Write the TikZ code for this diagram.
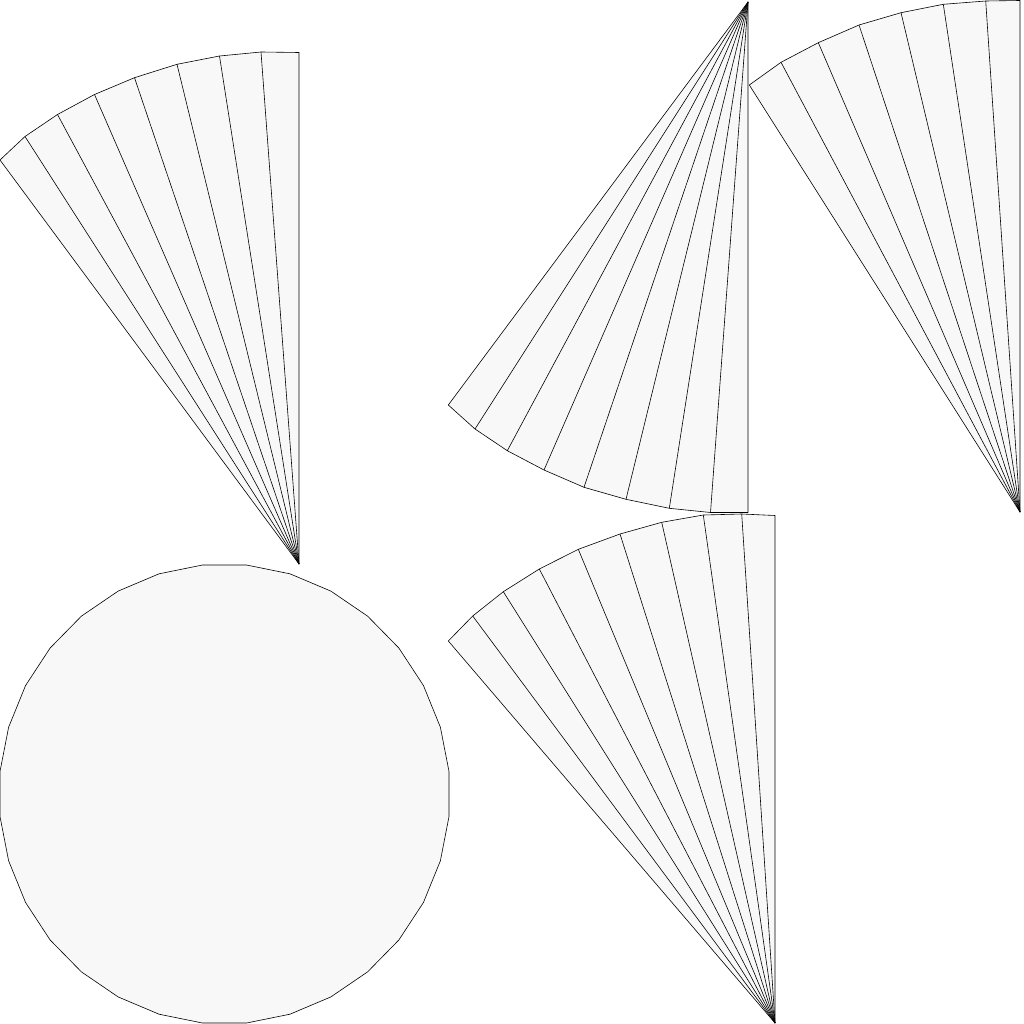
\documentclass[tikz,border=0pt]{standalone}
\definecolor{netfill}{RGB}{248,248,248}
\tikzset{
  netface/.style={fill=netfill,draw=black,line width=0.6pt,line join=round},
  netfold/.style={draw=black,line width=0.6pt}
}
\begin{document}
\begin{tikzpicture}[x=1pt,y=-1pt]
  \useasboundingbox (0,0) rectangle (1024,1024);
  % fan, apex down, 8 strips
  \draw[netface] (299,564) -- (299,52.5) -- (261,52) -- (219.5,56) -- (177,64.3) -- (134.5,77.7)
    -- (94.5,94.5) -- (57.5,114.5) -- (25,136.5) -- (0,160) -- cycle;
  \foreach \x/\y in {261/52,219.5/56,177/64.3,134.5/77.7,94.5/94.5,57.5/114.5,25/136.5}
    \draw[netfold] (299,564) -- (\x,\y);
  % fan, apex up, 8 strips
  \draw[netface] (748,2) -- (748,512.5) -- (710.5,512.5) -- (669.3,508.3) -- (626,499.3) -- (584,487.3)
    -- (544,470) -- (507.3,450.7) -- (475,429) -- (448.3,405) -- cycle;
  \foreach \x/\y in {710.5/512.5,669.3/508.3,626/499.3,584/487.3,544/470,507.3/450.7,475/429}
    \draw[netfold] (748,2) -- (\x,\y);
  % fan, apex down, 7 strips
  \draw[netface] (1020,512) -- (1020,0.5) -- (985.7,1) -- (943.3,4.3) -- (901,12.7) -- (859,25)
    -- (818.3,42.7) -- (781,62.3) -- (749.3,85) -- cycle;
  \foreach \x/\y in {985.7/1,943.3/4.3,901/12.7,859/25,818.3/42.7,781/62.3}
    \draw[netfold] (1020,512) -- (\x,\y);
  % fan, apex down, 9 strips
  \draw[netface] (775,1023) -- (775,515.5) -- (741.7,514) -- (703.3,515) -- (661.7,522.3) -- (620,534)
    -- (578.3,549.3) -- (539.3,569) -- (503.3,591.7) -- (472.7,616) -- (448.3,641) -- cycle;
  \foreach \x/\y in {741.7/514,703.3/515,661.7/522.3,620/534,578.3/549.3,539.3/569,503.3/591.7,472.7/616}
    \draw[netfold] (775,1023) -- (\x,\y);
  % base
  \draw[netface] plot[domain=0:31,samples=32] ({224.5+225.6*sin(5.625+11.25*\x)},{794-230.1*cos(5.625+11.25*\x)}) -- cycle;
\end{tikzpicture}
\end{document}
